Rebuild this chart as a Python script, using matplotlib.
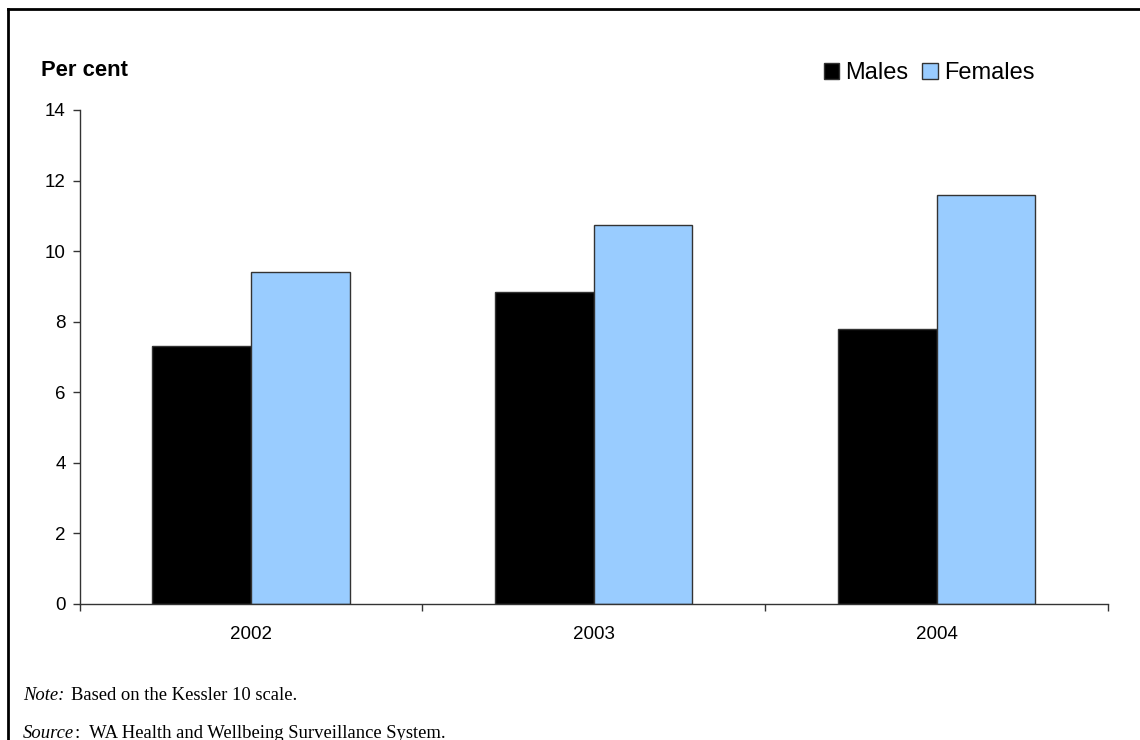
import matplotlib
matplotlib.use("Agg")
import matplotlib.pyplot as plt
from matplotlib.lines import Line2D
import numpy as np

years = ["2002", "2003", "2004"]
males = [7.32, 8.83, 7.78]
females = [9.40, 10.73, 11.59]
yticks = [0, 2, 4, 6, 8, 10, 12, 14]

plt.rcParams['font.family'] = ['Liberation Sans', 'DejaVu Sans']

W, H = 1140, 740
fig = plt.figure(figsize=(W / 100, H / 100), dpi=100)
fig.patch.set_facecolor('white')

ax = fig.add_axes([79.5 / W, 1 - 604 / H, (1108 - 79.5) / W, (604 - 110) / H])
x = np.arange(len(years))
bw = 0.288
ax.bar(x - bw / 2, males, bw, color='black', edgecolor='#333333', linewidth=1, label='Males', zorder=2)
ax.bar(x + bw / 2, females, bw, color='#99CCFF', edgecolor='#333333', linewidth=1, label='Females', zorder=2)

ax.set_xlim(-0.5, len(years) - 0.5)
ax.set_ylim(0, 14)
ax.set_yticks(yticks)
ax.set_yticklabels([str(v) for v in yticks], fontsize=13.5)
ax.set_xticks(x)
ax.set_xticklabels(years, fontsize=13.5)
ax.set_xticks(np.arange(-0.5, len(years)), minor=True)
ax.tick_params(axis='x', which='major', length=0, pad=16)
ax.tick_params(axis='x', which='minor', length=5, direction='out', color='#333333', width=1)
ax.tick_params(axis='y', length=5, direction='out', color='#333333', width=1, pad=5)
for s in ['top', 'right']:
    ax.spines[s].set_visible(False)
for s in ['left', 'bottom']:
    ax.spines[s].set_color('#333333')
    ax.spines[s].set_linewidth(1)

fig.text(41 / W, 1 - 70 / H, 'Per cent', fontsize=15.8, fontweight='bold', va='center', ha='left')

fig.legend(loc='center', bbox_to_anchor=(929 / W, 1 - 73 / H), ncol=2, frameon=False,
           fontsize=17, handlelength=0.65, handleheight=0.65, handletextpad=0.25,
           columnspacing=0.6, borderpad=0, borderaxespad=0)

fs_note = 13.4
renderer = fig.canvas.get_renderer()


def two_part(y_px, italic, rest, gap_px):
    t1 = fig.text(23 / W, 1 - y_px / H, italic, fontsize=fs_note, family='Liberation Serif',
                  style='italic', va='center')
    bb = t1.get_window_extent(renderer=renderer)
    fig.text((bb.x1 + gap_px) / W, 1 - y_px / H, rest, fontsize=fs_note,
             family='Liberation Serif', va='center')


two_part(696, 'Note:', 'Based on the Kessler 10 scale.', 7)
two_part(733, 'Source', ':  WA Health and Wellbeing Surveillance System.', 1)

fig.add_artist(Line2D([8 / W, 1], [1 - 9 / H, 1 - 9 / H], transform=fig.transFigure, color='black', linewidth=2))
fig.add_artist(Line2D([8 / W, 8 / W], [1 - 9 / H, 0], transform=fig.transFigure, color='black', linewidth=2))

fig.savefig('out.png', dpi=100, facecolor='white')
